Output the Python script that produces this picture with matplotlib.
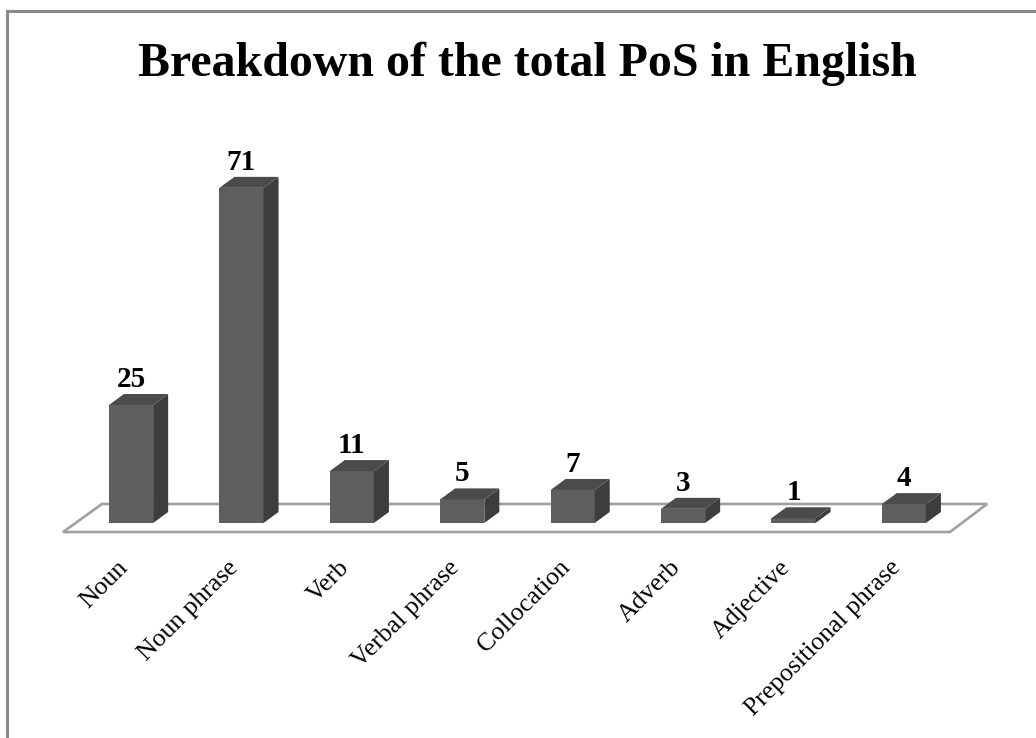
import matplotlib
matplotlib.use("Agg")
import matplotlib.pyplot as plt
from matplotlib.patches import Polygon
from matplotlib.lines import Line2D

categories = ["Noun", "Noun phrase", "Verb", "Verbal phrase", "Collocation",
              "Adverb", "Adjective", "Prepositional phrase"]
counts = [25, 71, 11, 5, 7, 3, 1, 4]
title = "Breakdown of the total PoS in English"

SERIF = "Liberation Serif"
FRONT, SIDE, TOP = "#5e5e5e", "#3d3d3d", "#4b4b4b"

W, H = 1036, 738
fig = plt.figure(figsize=(W / 100, H / 100), dpi=100)
ax = fig.add_axes([0, 0, 1, 1])
ax.set_xlim(-1.187, 8.197)
ax.set_ylim(-45.55, 110.8)
ax.axis("off")

# fake 3D: bar half width and depth offsets (data units)
half = 0.2
dx, dy = 0.136, 2.33

# floor parallelogram
floor = Polygon([(-0.616, -1.91), (7.418, -1.91), (7.754, 4.03), (-0.263, 4.03)],
                closed=True, facecolor="white", edgecolor="#a0a0a0", lw=1.9, zorder=1)
ax.add_patch(floor)

for i, (name, v) in enumerate(zip(categories, counts)):
    l, r = i - half, i + half
    front = Polygon([(l, 0), (r, 0), (r, v), (l, v)], closed=True,
                    facecolor=FRONT, edgecolor="none", zorder=3)
    side = Polygon([(r, 0), (r + dx, dy), (r + dx, v + dy), (r, v)], closed=True,
                   facecolor=SIDE, edgecolor="none", zorder=3)
    top = Polygon([(l, v), (r, v), (r + dx, v + dy), (l + dx, v + dy)], closed=True,
                  facecolor=TOP, edgecolor="none", zorder=3)
    for p in (front, side, top):
        ax.add_patch(p)

    ax.annotate(str(v), (i, v + dy), xytext=(0, 5), textcoords="offset points",
                ha="center", va="baseline", fontsize=21, fontweight="bold",
                family=SERIF, zorder=4)
    ax.annotate(name, (i, -7.4), xytext=(-10, 1), textcoords="offset points",
                ha="right", va="top", rotation=45, rotation_mode="anchor",
                fontsize=18.5, family=SERIF, zorder=4)

fig.text(527 / W, 1 - 76 / H, title, ha="center", va="baseline",
         fontsize=34.5, fontweight="bold", family=SERIF)

# outer frame, only left and top edges visible
fig.add_artist(Line2D([7 / W, 7 / W], [0, 1 - 11 / H], color="#8a8a8a", lw=2.2))
fig.add_artist(Line2D([7 / W, 1], [1 - 11 / H, 1 - 11 / H], color="#8a8a8a", lw=2.2))

fig.savefig("out.png", dpi=100, facecolor="white")
